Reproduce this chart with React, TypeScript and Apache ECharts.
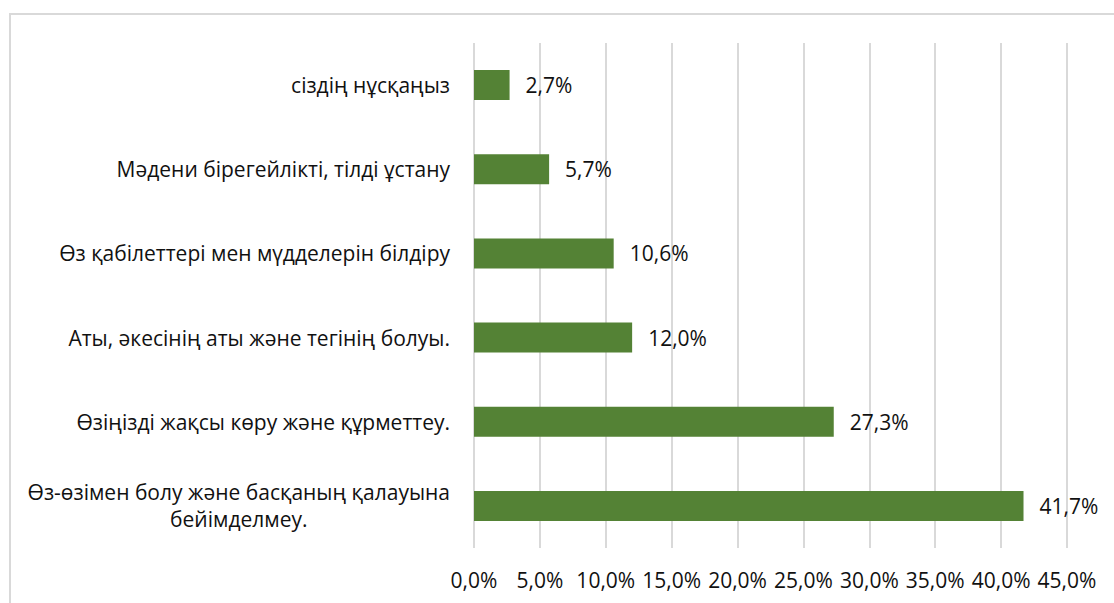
import React, { useEffect, useRef } from "react";
import * as echarts from "echarts";

const categories = [
  "сіздің нұсқаңыз",
  "Мәдени бірегейлікті, тілді ұстану",
  "Өз қабілеттері мен мүдделерін білдіру",
  "Аты, әкесінің аты және тегінің болуы.",
  "Өзіңізді жақсы көру және құрметтеу.",
  "Өз-өзімен болу және басқаның қалауына\nбейімделмеу.",
];
const values = [2.7, 5.7, 10.6, 12.0, 27.3, 41.7];
const xTicks = { min: 0, max: 45, interval: 5 };

const fmt = (v: number) => v.toFixed(1).replace(".", ",") + "%";
const FONT = "Open Sans";
const FS = 21;
const COLOR = "#111111";

export default function App() {
  const ref = useRef<HTMLDivElement>(null);
  useEffect(() => {
    if (!ref.current) return;
    const chart = echarts.init(ref.current, null, { renderer: "svg" });
    chart.setOption({
      animation: false,
      backgroundColor: "#ffffff",
      graphic: [
        {
          type: "rect",
          shape: { x: 10, y: 14, width: 1200, height: 700 },
          style: { fill: "none", stroke: "#d9d9d9", lineWidth: 2 },
          silent: true,
        },
      ],
      grid: { left: 474, right: 1114 - 1067, top: 43, bottom: 603 - 548, containLabel: false },
      xAxis: {
        type: "value",
        min: xTicks.min,
        max: xTicks.max,
        interval: xTicks.interval,
        axisLine: { show: false },
        axisTick: { show: false },
        splitLine: { show: true, lineStyle: { color: "#d9d9d9", width: 2 } },
        axisLabel: {
          formatter: (v: number) => fmt(v),
          color: COLOR,
          fontFamily: FONT,
          fontSize: FS,
          margin: 21,
        },
      },
      yAxis: {
        type: "category",
        inverse: true,
        data: categories,
        axisLine: { show: false },
        axisTick: { show: false },
        splitLine: { show: false },
        axisLabel: {
          margin: 24,
          color: COLOR,
          fontFamily: FONT,
          fontSize: FS,
          lineHeight: 27,
          align: "right",
          formatter: (v: string) =>
            v
              .split("\n")
              .map((l) => "{c|" + l + "}")
              .join("\n"),
          rich: {
            c: {
              align: "center",
              color: COLOR,
              fontFamily: FONT,
              fontSize: FS,
              lineHeight: 27,
            },
          },
        },
      },
      series: [
        {
          type: "bar",
          data: values,
          barWidth: 30,
          itemStyle: { color: "#548235" },
          label: {
            show: true,
            position: "right",
            distance: 16,
            formatter: (p: any) => fmt(p.value),
            color: COLOR,
            fontFamily: FONT,
            fontSize: FS,
          },
        },
      ],
    });
    return () => chart.dispose();
  }, []);
  return (
    <div
      ref={ref}
      style={{ position: "fixed", left: 0, top: 0, width: 1114, height: 603 }}
    />
  );
}
